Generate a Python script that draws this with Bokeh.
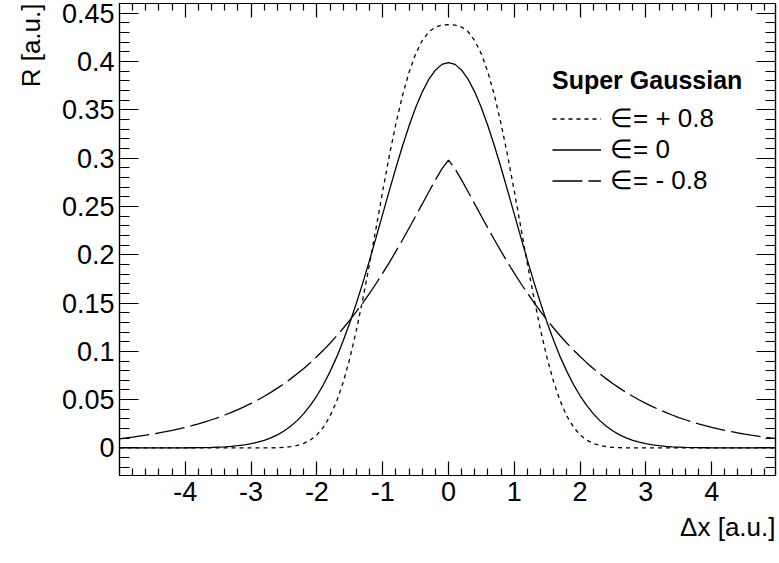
import numpy as np
from bokeh.plotting import figure
from bokeh.models import (Range1d, LinearAxis, FixedTicker, CustomJSTickFormatter,
                          Title, Legend, LegendItem)
from bokeh.embed import file_html
from bokeh.resources import INLINE

# |x| grid for the half profile (curves are symmetric about 0)
x_half = [0.0, 0.1, 0.2, 0.3, 0.4, 0.5, 0.6, 0.7, 0.8, 0.9,
          1.0, 1.1, 1.2, 1.3, 1.4, 1.5, 1.6, 1.7, 1.8, 1.9,
          2.0, 2.1, 2.2, 2.3, 2.4, 2.5, 2.6, 2.7, 2.8, 2.9,
          3.0, 3.1, 3.2, 3.3, 3.4, 3.5, 3.6, 3.7, 3.8, 3.9,
          4.0, 4.1, 4.2, 4.3, 4.4, 4.5, 4.6, 4.7, 4.8, 4.9, 5.0]

# epsilon = +0.8 (flat top)
r_plus = [0.4380, 0.4377, 0.4356, 0.4306, 0.4215, 0.4077, 0.3887, 0.3645, 0.3353, 0.3021,
          0.2658, 0.2279, 0.1904, 0.1548, 0.1218, 0.0925, 0.0680, 0.0482, 0.0329, 0.0216,
          0.0135, 0.0082, 0.0047, 0.0026, 0.0013, 0.0007, 0.0003, 0.0001, 0.0001, 0.0,
          0.0, 0.0, 0.0, 0.0, 0.0, 0.0, 0.0, 0.0, 0.0, 0.0,
          0.0, 0.0, 0.0, 0.0, 0.0, 0.0, 0.0, 0.0, 0.0, 0.0, 0.0]

# epsilon = 0 (plain Gaussian)
r_zero = [0.3989, 0.3970, 0.3910, 0.3814, 0.3683, 0.3521, 0.3332, 0.3123, 0.2897, 0.2661,
          0.2420, 0.2179, 0.1942, 0.1714, 0.1497, 0.1295, 0.1109, 0.0940, 0.0790, 0.0656,
          0.0540, 0.0440, 0.0355, 0.0283, 0.0224, 0.0175, 0.0136, 0.0104, 0.0079, 0.0060,
          0.0044, 0.0033, 0.0024, 0.0017, 0.0012, 0.0009, 0.0006, 0.0004, 0.0003, 0.0002,
          0.0001, 0.0001, 0.0001, 0.0, 0.0, 0.0, 0.0, 0.0, 0.0, 0.0, 0.0]

# epsilon = -0.8 (cusp, heavy tails)
r_minus = [0.2980, 0.2888, 0.2772, 0.2649, 0.2523, 0.2398, 0.2274, 0.2152, 0.2034, 0.1919,
           0.1809, 0.1702, 0.1601, 0.1503, 0.1411, 0.1323, 0.1239, 0.1159, 0.1084, 0.1013,
           0.0946, 0.0883, 0.0823, 0.0767, 0.0715, 0.0665, 0.0619, 0.0575, 0.0535, 0.0496,
           0.0461, 0.0428, 0.0397, 0.0368, 0.0341, 0.0315, 0.0292, 0.0270, 0.0250, 0.0231,
           0.0213, 0.0197, 0.0182, 0.0168, 0.0155, 0.0143, 0.0132, 0.0122, 0.0112, 0.0103, 0.0095]

x_major = [-4, -3, -2, -1, 0, 1, 2, 3, 4]
x_minor = [-4.8, -4.6, -4.4, -4.2, -3.8, -3.6, -3.4, -3.2, -2.8, -2.6, -2.4, -2.2,
           -1.8, -1.6, -1.4, -1.2, -0.8, -0.6, -0.4, -0.2, 0.2, 0.4, 0.6, 0.8,
           1.2, 1.4, 1.6, 1.8, 2.2, 2.4, 2.6, 2.8, 3.2, 3.4, 3.6, 3.8,
           4.2, 4.4, 4.6, 4.8]
y_major = [0, 0.05, 0.1, 0.15, 0.2, 0.25, 0.3, 0.35, 0.4, 0.45]
y_minor = [-0.02, -0.01, 0.01, 0.02, 0.03, 0.04, 0.06, 0.07, 0.08, 0.09,
           0.11, 0.12, 0.13, 0.14, 0.16, 0.17, 0.18, 0.19, 0.21, 0.22, 0.23, 0.24,
           0.26, 0.27, 0.28, 0.29, 0.31, 0.32, 0.33, 0.34, 0.36, 0.37, 0.38, 0.39,
           0.41, 0.42, 0.43, 0.44]

legend_title = "Super Gaussian"
labels = ["\u2208= + 0.8", "\u2208= 0", "\u2208= - 0.8"]
x_title = "\u0394x [a.u.]"
y_title = "R [a.u.]"


def mirrored(vals):
    xs = [-v for v in x_half[:0:-1]] + x_half
    ys = vals[:0:-1] + vals
    return xs, ys


FONT = "Liberation Sans"
FS = "26px"
TICK_FS = "27px"

p = figure(width=779, height=563, output_backend="svg", toolbar_location=None,
           x_range=Range1d(-5.0, 4.97), y_range=Range1d(-0.0285, 0.46),
           min_border_left=118, min_border_right=4, min_border_top=3,
           min_border_bottom=88, x_axis_location=None, y_axis_location=None)
p.grid.visible = False
p.outline_line_color = "black"
p.outline_line_width = 1.2
p.background_fill_color = "white"
p.border_fill_color = "white"

xt = FixedTicker(ticks=x_major, minor_ticks=x_minor)
yt = FixedTicker(ticks=y_major, minor_ticks=y_minor)
fmt = CustomJSTickFormatter(code="return String(tick)")


def style_axis(ax, major, minor, show_labels):
    ax.axis_line_color = "black"
    ax.axis_line_width = 1.2
    ax.major_tick_in = major
    ax.major_tick_out = 0
    ax.minor_tick_in = minor
    ax.minor_tick_out = 0
    ax.major_tick_line_width = 1.2
    ax.minor_tick_line_width = 1.2
    ax.major_label_text_font = FONT
    ax.major_label_text_font_size = TICK_FS
    ax.major_label_text_color = "black" if show_labels else None
    ax.formatter = fmt


bottom = LinearAxis(ticker=xt)
style_axis(bottom, 14, 7, True)
bottom.major_label_standoff = 6
top = LinearAxis(ticker=xt)
style_axis(top, 14, 7, False)
left = LinearAxis(ticker=yt)
style_axis(left, 19, 10, True)
left.major_label_standoff = 5
right = LinearAxis(ticker=yt)
style_axis(right, 19, 10, False)

p.add_layout(bottom, "below")
p.add_layout(top, "above")
p.add_layout(left, "left")
p.add_layout(right, "right")

# axis titles, right-aligned to the ends of the axes
p.add_layout(Title(text=x_title, align="right", text_font=FONT, text_font_size=FS,
                   text_font_style="normal", text_color="black", standoff=12), "below")
p.add_layout(Title(text=y_title, align="right", vertical_align="bottom", text_font=FONT,
                   text_font_size=FS, text_font_style="normal", text_color="black",
                   standoff=26), "left")

renderers = []
for vals, dash in [(r_plus, "4 4"), (r_zero, "solid"), (r_minus, "30 6")]:
    xs, ys = mirrored(vals)
    r = p.line(xs, ys, line_color="black", line_width=1.3, line_dash=dash)
    renderers.append(r)

legend = Legend(items=[LegendItem(label=lab, renderers=[r]) for lab, r in zip(labels, renderers)],
                location=(433, 279), title=legend_title,
                title_text_font=FONT, title_text_font_style="bold", title_text_font_size="25px",
                title_text_color="black", title_standoff=8,
                label_text_font=FONT, label_text_font_size=FS, label_text_color="black",
                glyph_width=49, glyph_height=29, label_height=29, label_standoff=9,
                spacing=-4, padding=0, margin=0,
                border_line_color=None, background_fill_alpha=0)
p.add_layout(legend, "center")

open("out.html", "w").write(file_html(p, INLINE))
